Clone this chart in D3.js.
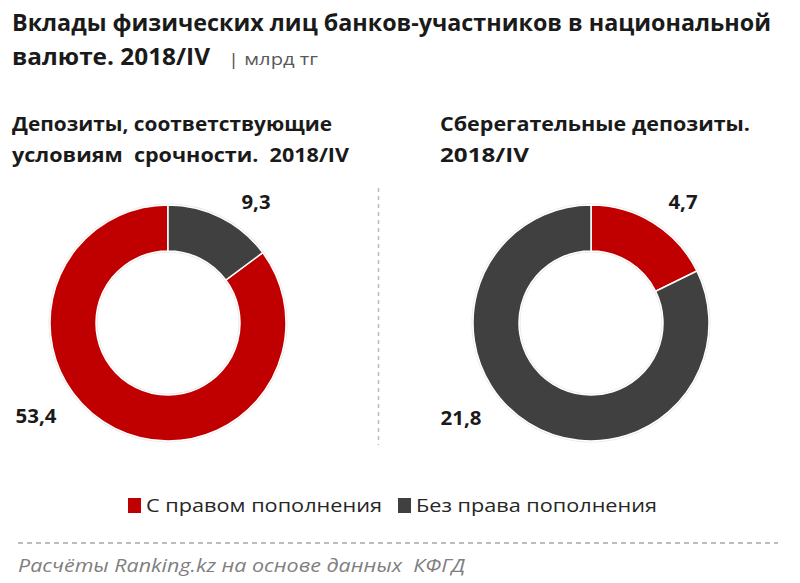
<!DOCTYPE html>
<html><head><meta charset="utf-8">
<script src="https://cdn.jsdelivr.net/npm/d3@7"></script>
<style>body{margin:0;background:#fff}svg{display:block}text{white-space:pre}</style>
</head><body>
<svg id="c" width="800" height="583"></svg>
<script>
const categories = ["С правом пополнения", "Без права пополнения"];
const colors = ["#C00000", "#404040"];
const termDeposits = [53.4, 9.3];      // Депозиты, соответствующие условиям срочности
const savingsDeposits = [4.7, 21.8];   // Сберегательные депозиты
const valueLabels = ["53,4", "9,3"];
const valueLabels2 = ["4,7", "21,8"];

const svg = d3.select("#c");
const F = "'Open Sans', 'Noto Sans', sans-serif";

function txt(s, x, y, size, opts = {}) {
  const t = svg.append("text").attr("x", x).attr("y", y)
    .attr("font-family", opts.family || F).attr("font-size", size)
    .attr("font-weight", opts.weight || "normal")
    .attr("font-style", opts.style || "normal")
    .attr("fill", opts.fill || "#1a1a1a")
    .attr("text-anchor", opts.anchor || "start")
    .attr("xml:space", "preserve")
    .text(s);
  if (opts.len) t.attr("textLength", opts.len).attr("lengthAdjust", "spacingAndGlyphs");
  return t;
}

// Title
txt("Вклады физических лиц банков-участников в национальной", 12, 31, 24, {weight: "bold", len: 759});
txt("валюте. 2018/IV", 12, 65, 24, {weight: "bold", len: 198});
txt("| млрд тг", 228, 65, 15.5, {fill: "#595959", len: 90});

// Subtitles
txt("Депозиты, соответствующие", 12, 131, 20, {weight: "bold", len: 320});
txt("условиям  срочности.  2018/IV", 12, 162, 20, {weight: "bold", len: 337});
txt("Сберегательные депозиты.", 440, 131, 20, {weight: "bold", len: 310});
txt("2018/IV", 440, 162, 20, {weight: "bold", len: 89});

// Donuts
const outerR = 118, innerR = 72;
const arc = d3.arc().innerRadius(innerR).outerRadius(outerR);
const pie = d3.pie().value(d => d.value).sort((a, b) => a.value - b.value);

function donut(values, labels, cx, cy, labelPos) {
  const data = values.map((v, i) => ({value: v, idx: i, label: labels[i]}));
  const g = svg.append("g").attr("transform", `translate(${cx},${cy})`);
  const arcs = pie(data);
  g.selectAll("path.shadow").data(arcs).join("path")
    .attr("d", d3.arc().innerRadius(innerR - 1.5).outerRadius(outerR + 1.5))
    .attr("fill", "#d8d8d8").attr("opacity", 0.6);
  g.selectAll("path.slice").data(arcs).join("path")
    .attr("class", "slice")
    .attr("d", arc)
    .attr("fill", d => colors[d.data.idx])
    .attr("stroke", "#fff").attr("stroke-width", 1.5);
  arcs.forEach(d => {
    const p = labelPos[d.data.idx];
    const t = txt(d.data.label, cx + p[0], cy + p[1], 19, {weight: "bold", anchor: "middle"});
    t.attr("textLength", d.data.label.length === 4 ? 41 : 29).attr("lengthAdjust", "spacingAndGlyphs");
  });
}

donut(termDeposits, valueLabels, 168, 323, [[-132, 100], [88, -114]]);
donut(savingsDeposits, valueLabels2, 591, 323, [[92, -114], [-130, 102]]);

// Vertical divider
svg.append("line").attr("x1", 378.5).attr("x2", 378.5).attr("y1", 188).attr("y2", 445)
  .attr("stroke", "#bdbdbd").attr("stroke-width", 1.5).attr("stroke-dasharray", "4,4");

// Legend
const legendX = [128, 398];
const legendLen = [236, 241];
categories.forEach((c, i) => {
  svg.append("rect").attr("x", legendX[i]).attr("y", 498).attr("width", 13).attr("height", 15)
    .attr("fill", colors[i]);
  txt(c, legendX[i] + 18, 512, 19, {fill: "#262626", len: legendLen[i]});
});

// Bottom dashed line
svg.append("line").attr("x1", 18).attr("x2", 778).attr("y1", 543).attr("y2", 543)
  .attr("stroke", "#a6a6a6").attr("stroke-width", 1.5).attr("stroke-dasharray", "5,4");

// Footer
txt("Расчёты Ranking.kz на основе данных  КФГД", 18, 572, 18, {style: "italic", fill: "#7f7f7f", len: 447});
</script>
</body></html>
